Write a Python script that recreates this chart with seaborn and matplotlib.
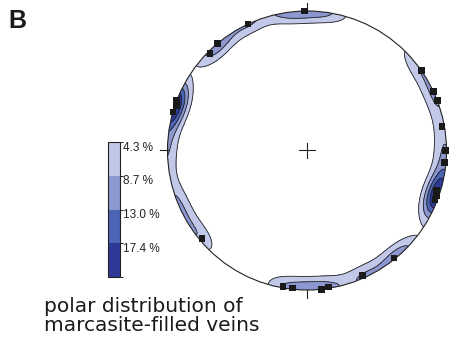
import numpy as np
import pandas as pd
import matplotlib
matplotlib.use("Agg")
import matplotlib.pyplot as plt
import matplotlib.cm as cm
from matplotlib.patches import Circle
from matplotlib.colors import ListedColormap, BoundaryNorm
import seaborn as sns

# ---- data: poles to marcasite-filled veins (trend / plunge, degrees) ----
trend = [359, 335, 320, 315, 291, 289, 286, 55, 65, 69, 80, 90, 95,
         107, 109, 111, 230, 141, 156, 190, 186, 174, 171]
plunge = [0, 0, 0, 2, 0, 1, 0, 0, 0, 0, 2, 1, 1,
          3, 2, 2, 2, 1, 2, 1, 1, 0, 1]
level_labels = ["4.3 %", "8.7 %", "13.0 %", "17.4 %"]
level_values = [4.3, 8.7, 13.0, 17.4]
fill_colors = ["#c2c8e8", "#8c97cf", "#4c64b4", "#2d3897"]
KAPPA = 70.0        # smoothing of the spherical (axial) counting kernel
AREA_SCALE = 1.35   # counting-area normalisation


def to_vec(tr_deg, pl_deg):
    t = np.radians(tr_deg)
    p = np.radians(pl_deg)
    return np.stack([np.cos(p) * np.sin(t), np.cos(p) * np.cos(t), -np.sin(p)], axis=-1)


# ---- equal-area (Schmidt) lower-hemisphere projection of the poles ----
tr = np.radians(trend)
pl = np.radians(plunge)
r = np.sqrt(2) * np.sin((np.pi / 2 - pl) / 2)
poles = pd.DataFrame({"x": r * np.sin(tr), "y": r * np.cos(tr)})
vecs = to_vec(np.asarray(trend, float), np.asarray(plunge, float))

# ---- density grid: % of poles per counting area ----
g = np.linspace(-1.1, 1.1, 441)
GX, GY = np.meshgrid(g, g)
rho = np.clip(np.hypot(GX, GY), 0, np.sqrt(2) - 1e-9)
c = 2 * np.arcsin(rho / np.sqrt(2))           # angle from vertical
az = np.arctan2(GX, GY)
gv = np.stack([np.sin(c) * np.sin(az), np.sin(c) * np.cos(az), -np.cos(c)], axis=-1)
cosang = np.abs(gv @ vecs.T)
w = np.exp(KAPPA * (cosang - 1)).sum(axis=-1)
density = AREA_SCALE * KAPPA / (1 - np.exp(-KAPPA)) * w / len(trend)

W, H = 449, 342
fig = plt.figure(figsize=(W / 100, H / 100), dpi=100)
cx, cy, R = 307.0, 150.5, 139.5
L = 1.15
ax = fig.add_axes([(cx - L * R) / W, (H - cy - L * R) / H, 2 * L * R / W, 2 * L * R / H])

lev = level_values + [max(density.max(), level_values[-1]) + 1]
cf = ax.contourf(GX, GY, density, levels=lev, colors=fill_colors)
cl = ax.contour(GX, GY, density, levels=level_values, colors="#222222", linewidths=0.6)
clip = Circle((0, 0), 1, transform=ax.transData)
cf.set_clip_path(clip)
cl.set_clip_path(clip)

ax.add_patch(Circle((0, 0), 1, fill=False, lw=0.8, ec="#222222", zorder=3))
t = 0.055
for (x0, y0, x1, y1) in [(0, 1, 0, 1 + t), (0, -1, 0, -1 - t), (-1, 0, -1 - t, 0), (1, 0, 1 + t, 0),
                         (-0.057, 0, 0.057, 0), (0, -0.057, 0, 0.057)]:
    ax.plot([x0, x1], [y0, y1], color="#222222", lw=0.8, zorder=3)

sns.scatterplot(data=poles, x="x", y="y", marker="s", s=24, color="#1a1a1a",
                edgecolor="none", ax=ax, zorder=4)
ax.set_xlim(-L, L)
ax.set_ylim(-L, L)
ax.axis("off")

# ---- colour key ----
cax = fig.add_axes([108 / W, (H - 277) / H, 12 / W, 135 / H])
cmap = ListedColormap(fill_colors)
norm = BoundaryNorm([0, 1, 2, 3, 4], 4)
cb = fig.colorbar(cm.ScalarMappable(norm=norm, cmap=cmap), cax=cax)
cax.invert_yaxis()
cb.set_ticks([0.12, 1.12, 2.12, 3.12])
cb.set_ticklabels(level_labels)
cax.tick_params(length=0, pad=2, labelsize=8.5, colors="#222222")
for lab in cax.get_yticklabels():
    lab.set_family("Liberation Sans")
cb.outline.set_linewidth(0.8)
cb.outline.set_edgecolor("#222222")

fig.text(8 / W, 1 - 28 / H, "B", fontsize=18, fontweight="bold",
         family="Liberation Sans", color="#1a1a1a", va="baseline", ha="left")
fig.text(44 / W, 1 - 312 / H, "polar distribution of", fontsize=14.5,
         color="#1a1a1a", va="baseline", ha="left")
fig.text(44 / W, 1 - 331 / H, "marcasite-filled veins", fontsize=14.5,
         color="#1a1a1a", va="baseline", ha="left")

fig.savefig("out.png", dpi=100)
